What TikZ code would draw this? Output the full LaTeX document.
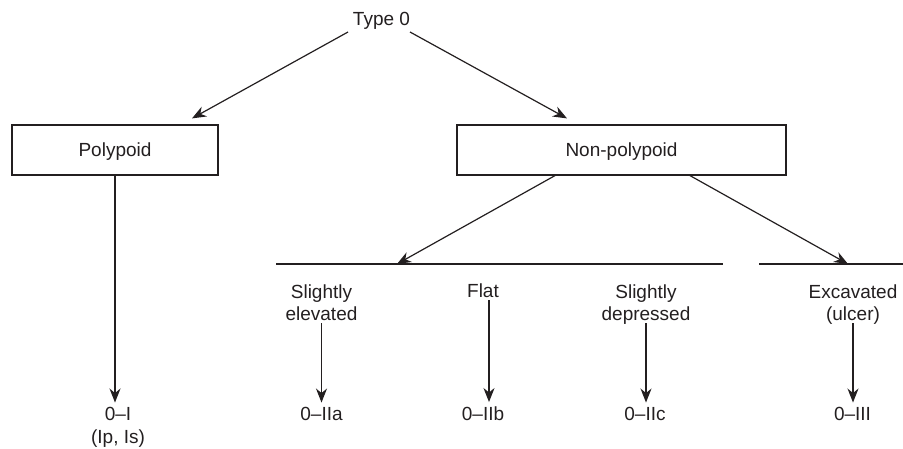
\documentclass[tikz,border=0pt]{standalone}
\usepackage{fontspec}
\setmainfont{Liberation Sans}
\usetikzlibrary{arrows.meta}
\definecolor{ink}{RGB}{35,31,32}
\begin{document}
\begin{tikzpicture}[x=1pt,y=-1pt,
  every node/.style={font=\fontsize{19}{23}\selectfont, text=ink, inner sep=0pt},
  box/.style={draw=ink, line width=1.2pt, minimum height=50pt, text height=14pt, text depth=0pt},
  lbl/.style={align=center, anchor=base},
  arr/.style={draw=ink, line width=1.2pt, -{Stealth[length=14pt,width=11pt,inset=4.5pt]}},
  ln/.style={draw=ink, line width=1.2pt}]
\useasboundingbox (0,0) rectangle (903,449);

\node[anchor=base] (t0) at (381.5,26) {Type 0};
\node[box, minimum width=206pt] (poly) at (115,150) {Polypoid};
\node[box, minimum width=329pt] (np) at (621.5,150) {Non-polypoid};

\node[lbl] (se) at (321.5,321) {Slightly\\elevated};
\node[lbl] (fl) at (483,298) {Flat};
\node[lbl] (sd) at (646,321) {Slightly\\depressed};
\node[lbl] (ex) at (853,321) {Excavated\\(ulcer)};

\node[lbl] (rI) at (118,443) {0–I\\(Ip, Is)};
\node[lbl] (rIIa) at (321.5,420) {0–IIa};
\node[lbl] (rIIb) at (483,420) {0–IIb};
\node[lbl] (rIIc) at (645,420) {0–IIc};
\node[lbl] (rIII) at (852.5,420) {0–III};

\coordinate (h1w) at (276,264);
\coordinate (h1e) at (723,264);
\coordinate (h2w) at (759,264);
\coordinate (h2e) at (903,264);
\coordinate (hit1) at (397,264);
\coordinate (hit2) at (848,264);

\draw[arr] ([xshift=-33.5pt,yshift=-6pt]t0.base) -- ([xshift=77pt,yshift=6pt]poly.north);
\draw[arr] ([xshift=28.5pt,yshift=-6pt]t0.base) -- ([xshift=-54.5pt,yshift=6pt]np.north);

\draw[ln] (h1w) -- (h1e);
\draw[ln] (h2w) -- (h2e);
\draw[arr] ([xshift=-66.5pt]np.south) -- (hit1);
\draw[arr] ([xshift=68.5pt]np.south) -- (hit2);

\draw[arr] (poly.south) -- ([yshift=4pt]poly.south |- rI.north);
\draw[arr] ([yshift=-2pt]se.south) -- ([yshift=4pt]se.south |- rIIa.north);
\coordinate (fls) at ([xshift=6pt,yshift=-2pt]fl.south);
\draw[arr] (fls) -- ([yshift=4pt]fls |- rIIb.north);
\draw[arr] ([yshift=2pt]sd.south) -- ([yshift=4pt]sd.south |- rIIc.north);
\draw[arr] ([yshift=2pt]ex.south) -- ([yshift=4pt]ex.south |- rIII.north);
\end{tikzpicture}
\end{document}
